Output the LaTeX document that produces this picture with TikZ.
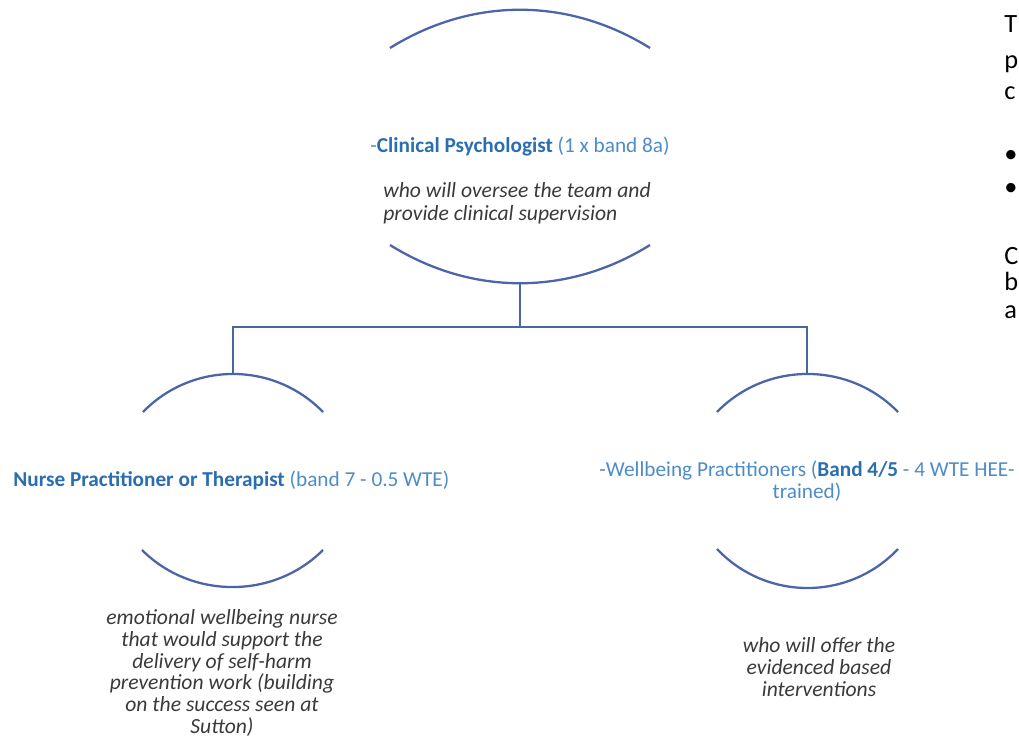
\documentclass[tikz,border=0pt]{standalone}
\usepackage{fontspec}
\setmainfont{Carlito}
\definecolor{linec}{HTML}{4A65A8}
\definecolor{boldblue}{HTML}{2A6EB0}
\definecolor{lightblue}{HTML}{4D8CC8}
\definecolor{greytext}{HTML}{3A3A3A}
\begin{document}
\begin{tikzpicture}[x=0.02cm,y=-0.02cm,
  arcline/.style={draw=linec,line width=1.3pt},
  conn/.style={draw=linec,line width=1.3pt},
  role/.style={inner sep=0pt,font=\fontsize{12.1}{12.6}\selectfont,text=lightblue},
  desc/.style={inner sep=0pt,font=\fontsize{12.3}{12.3}\selectfont\itshape,text=greytext},
  edge/.style={inner sep=0pt,anchor=base west,font=\fontsize{15}{16}\selectfont,text=black}]
\useasboundingbox (0,0) rectangle (1019,744);
\clip (0,0) rectangle (1019,744);
% top circle arcs
\draw[arcline] (390,48) .. controls (472,-3) and (568,-3) .. (650,48);
\draw[arcline] (390,245) .. controls (472,296) and (568,296) .. (650,245);
% left circle arcs
\draw[arcline] (143,412) .. controls (192.3,361.3) and (273.7,361.3) .. (323,412);
\draw[arcline] (142,550) .. controls (191.3,599.4) and (273.7,599.4) .. (323,550);
% right circle arcs
\draw[arcline] (717,412) .. controls (766.3,361.3) and (848.7,361.3) .. (898,412);
\draw[arcline] (717,549) .. controls (766.3,601) and (848.7,601) .. (898,549);
% connection points
\coordinate (topB) at (520,283);
\coordinate (bus) at (520,327);
\coordinate (leftT) at (233,374);
\coordinate (rightT) at (807,374);
\draw[conn] (topB) -- (bus) -| (leftT);
\draw[conn] (bus) -| (rightT);
% texts
\node[role] (top) at (520,147) {-\textbf{\color{boldblue}Clinical Psychologist} (1 x band 8a)};
\node[desc,anchor=west,align=left,font=\fontsize{12.3}{13}\selectfont\itshape] (topdesc) at (383,203) {who will oversee the team and\\provide clinical supervision};
\node[role,anchor=west] (nurse) at (13,480) {\textbf{\color{boldblue}Nurse Practitioner or Therapist} (band 7 - 0.5 WTE)};
\node[role,align=center] (well) at (807,481) {-Wellbeing Practitioners (\textbf{\color{boldblue}Band 4/5} - 4 WTE HEE-\\trained)};
\node[desc,align=center] (nursedesc) at (222,673) {emotional wellbeing nurse\\that would support the\\delivery of self-harm\\prevention work (building\\on the success seen at\\Sutton)};
\node[desc,align=center] (welldesc) at (819,667) {who will offer the\\evidenced based\\interventions};
% text at the right edge
\node[edge] (e1) at (1004,32) {T};
\node[edge] (e2) at (1004,68) {p};
\node[edge] (e3) at (1004,99) {c};
\node[edge] (e4) at (1004,162) {\textbullet};
\node[edge] (e5) at (1004,195) {\textbullet};
\node[edge] (e6) at (1004,264) {C};
\node[edge] (e7) at (1004,290) {b};
\node[edge] (e8) at (1004,318) {a};
\end{tikzpicture}
\end{document}
